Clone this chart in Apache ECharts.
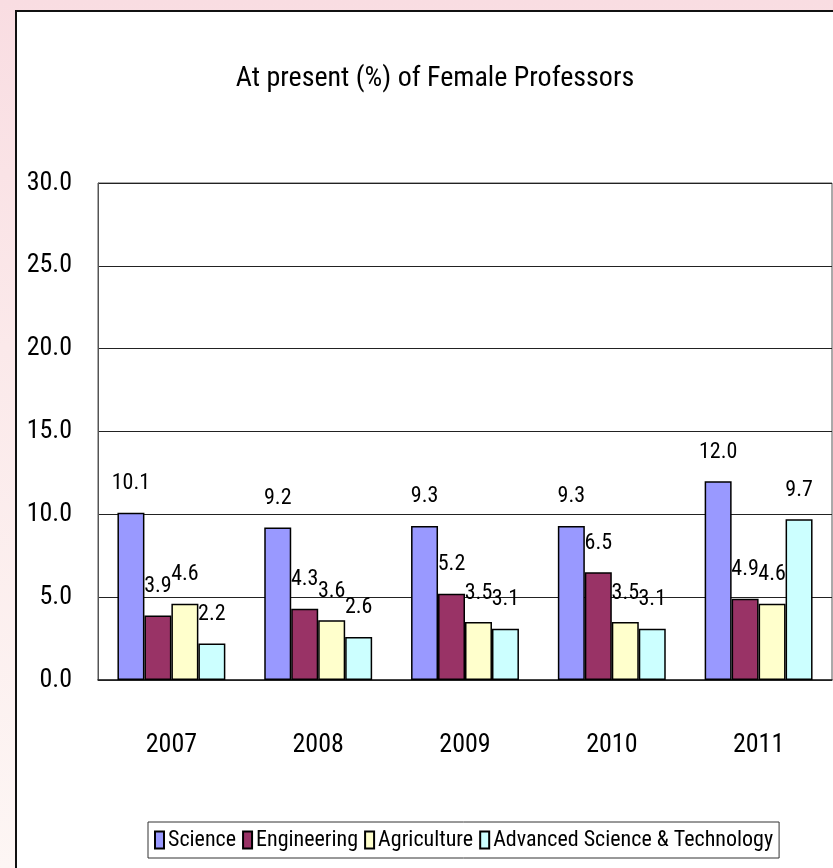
<!DOCTYPE html>
<html>
<head>
<meta charset="utf-8">
<script src="https://cdn.jsdelivr.net/npm/echarts@6/dist/echarts.min.js"></script>
<style>
  html, body { margin: 0; padding: 0; }
  body { width: 833px; height: 868px; overflow: hidden; position: relative;
         background: linear-gradient(180deg, #f9dde2 0%, #fbe9ea 40%, #fdf6f4 100%); }
  #panel { position: absolute; left: 15px; top: 10px; width: 830px; height: 870px;
           background: #ffffff; border-left: 2px solid #111; border-top: 2px solid #111; }
  #chart { position: absolute; left: 0; top: 0; width: 833px; height: 868px; }
</style>
</head>
<body>
<div id="panel"></div>
<div id="chart"></div>
<script>
const titleText = 'At present (%) of Female Professors';
const years = ['2007', '2008', '2009', '2010', '2011'];
const seriesNames = ['Science', 'Engineering', 'Agriculture', 'Advanced Science & Technology'];
const science = [10.1, 9.2, 9.3, 9.3, 12.0];
const engineering = [3.9, 4.3, 5.2, 6.5, 4.9];
const agriculture = [4.6, 3.6, 3.5, 3.5, 4.6];
const advancedST = [2.2, 2.6, 3.1, 3.1, 9.7];
const colors = ['#9999ff', '#993366', '#ffffcc', '#ccffff'];

const FONT = 'Roboto';
const STRETCH = 'condensed';
const valuesList = [science, engineering, agriculture, advancedST];

const chart = echarts.init(document.getElementById('chart'), null, { renderer: 'canvas' });
chart.setOption({
  backgroundColor: 'transparent',
  animation: false,
  title: {
    text: titleText,
    left: 430, top: 60, textAlign: 'center',
    textStyle: { fontFamily: FONT, fontWeight: STRETCH, fontSize: 28, color: '#000' }
  },
  grid: {
    left: 98, top: 183, right: 1, bottom: 188,
    show: true, borderColor: '#555', borderWidth: 1, backgroundColor: 'transparent'
  },
  legend: {
    left: 148, top: 822, width: 820,
    backgroundColor: '#fff', borderColor: '#333', borderWidth: 1,
    padding: [7, 6, 7, 6],
    itemWidth: 9, itemHeight: 17, itemGap: 6,
    icon: 'rect',
    textStyle: { fontFamily: FONT, fontWeight: STRETCH, fontSize: 22, color: '#000', padding: [0, 0, 0, -1] },
    data: seriesNames
  },
  xAxis: {
    type: 'category',
    data: years,
    axisLine: { lineStyle: { color: '#222', width: 1.5 } },
    axisTick: { inside: true, length: 13, lineStyle: { color: '#444' } },
    axisLabel: { fontFamily: FONT, fontWeight: STRETCH, fontSize: 26, color: '#000', margin: 52 }
  },
  yAxis: {
    type: 'value',
    min: 0, max: 30, interval: 5,
    axisLine: { show: true, lineStyle: { color: '#555' } },
    axisTick: { show: false },
    splitLine: { lineStyle: { color: '#222', width: 1 } },
    axisLabel: {
      fontFamily: FONT, fontWeight: STRETCH, fontSize: 26, color: '#000', margin: 26,
      formatter: v => v.toFixed(1)
    }
  },
  series: seriesNames.map((name, i) => ({
    name: name,
    type: 'bar',
    data: valuesList[i],
    barGap: '0%',
    barCategoryGap: '26.5%',
    itemStyle: { color: colors[i], borderColor: '#000', borderWidth: 1.5 },
    label: {
      show: true, position: 'top', distance: 18,
      fontFamily: FONT, fontWeight: STRETCH, fontSize: 22, color: '#000',
      formatter: p => p.value.toFixed(1)
    }
  }))
});
</script>
</body>
</html>
